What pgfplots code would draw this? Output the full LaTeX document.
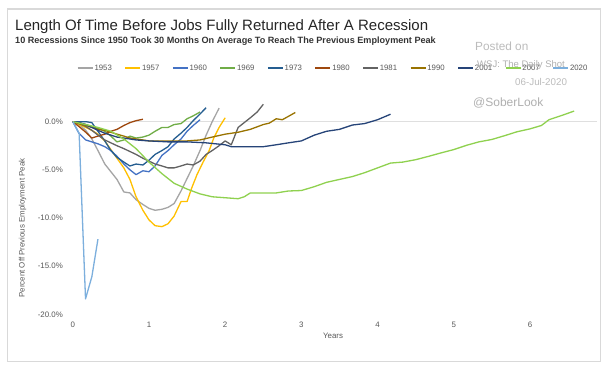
\documentclass[border=0pt]{standalone}
\usepackage{pgfplots}
\pgfplotsset{compat=1.18}
\usepackage{fontspec}
\setmainfont{Liberation Sans}
\definecolor{c1953}{HTML}{A5A5A5}
\definecolor{c1957}{HTML}{FFC000}
\definecolor{c1960}{HTML}{4472C4}
\definecolor{c1969}{HTML}{70AD47}
\definecolor{c1973}{HTML}{255E91}
\definecolor{c1980}{HTML}{9E480E}
\definecolor{c1981}{HTML}{636363}
\definecolor{c1990}{HTML}{997300}
\definecolor{c2001}{HTML}{264478}
\definecolor{c2007}{HTML}{8FD14F}
\definecolor{c2020}{HTML}{7CAFDD}
\definecolor{tickgray}{HTML}{595959}
\definecolor{framegray}{HTML}{D9D9D9}
\definecolor{wm}{HTML}{B0B0B0}
\begin{document}
\begin{tikzpicture}
\useasboundingbox (0bp,0bp) rectangle (612bp,370bp);
\fill[white] (0bp,0bp) rectangle (612bp,370bp);
\draw[color=framegray, line width=1.5bp] (7.3bp,8.3bp) rectangle (600.7bp,361bp);
\node[anchor=base west, inner sep=0pt, font=\fontsize{15bp}{18bp}\selectfont, text=black!85] at (15bp,339bp) {Length Of Time Before Jobs Fully Returned After A Recession};
\node[anchor=base west, inner sep=0pt, font=\fontsize{9.1bp}{10bp}\selectfont\bfseries, text=black!80] at (15bp,326bp) {10 Recessions Since 1950 Took 30 Months On Average To Reach The Previous Employment Peak};
\begin{axis}[
  at={(72.8bp,55.7bp)}, anchor=south west,
  width=524.2bp, height=214.8bp, scale only axis,
  xmin=0, xmax=6.88, ymin=-20, ymax=2.3,
  axis line style={draw=none}, major tick length=0pt,
  xtick={0,1,2,3,4,5,6}, xticklabels={0,1,2,3,4,5,6},
  ytick={-20,-15,-10,-5,0},
  yticklabels={-20.0\%,-15.0\%,-10.0\%,-5.0\%,0.0\%},
  /pgf/number format/assume math mode=true,
  ticklabel style={font=\fontsize{7.9bp}{9bp}\selectfont, text=tickgray},
  xticklabel style={anchor=center, yshift=-10.7bp, inner sep=0pt},
  yticklabel style={anchor=east, xshift=-9.8bp, inner sep=0pt},
  xlabel={Years}, ylabel={Percent Off Previous Employment Peak},
  xlabel style={at={(axis description cs:0.4964,-0.101)}, anchor=center, inner sep=0pt, font=\fontsize{7.9bp}{9bp}\selectfont, text=tickgray},
  ylabel style={at={(axis description cs:-0.0956,0.4018)}, anchor=center, inner sep=0pt, font=\fontsize{7.9bp}{9bp}\selectfont, text=tickgray},
  legend columns=11,
  legend image code/.code={\draw[#1, line width=1.6bp] (0bp,0bp) -- (15bp,0bp);},
  legend style={at={(axis description cs:0.00744,1.1453)}, anchor=west, draw=none, fill=none, inner sep=0pt,
    font=\fontsize{7.8bp}{9bp}\selectfont, text=tickgray, nodes={inner sep=1bp},
    /tikz/every even column/.append style={column sep=11.6bp}},
  every axis plot/.append style={line width=1.3bp, line join=round},
  clip=false,
]
\addplot[forget plot, color=gray!25, line width=0.8bp] coordinates {(0,0) (6.88,0)};
\addplot[c1953] coordinates {(0,0) (0.08,-0.3) (0.17,-0.9) (0.25,-1.8) (0.33,-3.0) (0.42,-4.4) (0.5,-5.2) (0.58,-6.0) (0.67,-7.3) (0.75,-7.4) (0.83,-8.1) (0.92,-8.6) (1.0,-9.0) (1.08,-9.2) (1.17,-9.1) (1.25,-8.9) (1.33,-8.5) (1.42,-7.2) (1.5,-5.9) (1.58,-4.6) (1.67,-3.0) (1.75,-1.4) (1.83,0.0) (1.92,1.4)};
\addlegendentry{1953}
\addplot[c1957] coordinates {(0,0) (0.08,-0.3) (0.17,-0.6) (0.25,-0.9) (0.33,-1.3) (0.42,-2.0) (0.5,-2.9) (0.58,-3.8) (0.67,-4.8) (0.75,-6.0) (0.83,-7.8) (0.92,-9.2) (1.0,-10.2) (1.08,-10.8) (1.17,-10.9) (1.25,-10.6) (1.33,-9.8) (1.42,-8.3) (1.5,-8.3) (1.56,-6.9) (1.63,-5.5) (1.71,-4.2) (1.79,-3.0) (1.85,-1.7) (1.92,-0.6) (2.0,0.4)};
\addlegendentry{1957}
\addplot[c1960] coordinates {(0,0) (0.08,-1.2) (0.17,-1.9) (0.25,-2.1) (0.33,-2.3) (0.42,-2.6) (0.5,-3.0) (0.58,-3.6) (0.67,-4.4) (0.75,-5.0) (0.83,-5.5) (0.92,-5.1) (1.0,-5.2) (1.08,-4.6) (1.17,-3.5) (1.25,-3.0) (1.33,-2.4) (1.42,-1.8) (1.5,-1.0) (1.58,-0.4) (1.67,0.2)};
\addlegendentry{1960}
\addplot[c1969] coordinates {(0,0) (0.08,-0.1) (0.17,-0.3) (0.25,-0.5) (0.33,-0.7) (0.42,-1.0) (0.5,-1.5) (0.58,-2.1) (0.67,-1.9) (0.75,-1.5) (0.83,-1.7) (0.92,-1.6) (1.0,-1.4) (1.08,-1.0) (1.17,-0.6) (1.25,-0.6) (1.33,-0.3) (1.42,-0.2) (1.5,0.3) (1.58,0.6) (1.67,1.0)};
\addlegendentry{1969}
\addplot[c1973] coordinates {(0,0) (0.08,0) (0.17,0) (0.25,-0.1) (0.33,-1.0) (0.42,-2.0) (0.5,-3.0) (0.58,-3.7) (0.67,-4.2) (0.75,-4.6) (0.83,-4.4) (0.92,-4.5) (1.0,-4.0) (1.08,-3.4) (1.17,-3.0) (1.25,-2.6) (1.33,-1.8) (1.42,-1.2) (1.5,-0.6) (1.58,0.1) (1.67,0.8) (1.75,1.45)};
\addlegendentry{1973}
\addplot[c1980] coordinates {(0,0) (0.08,-0.5) (0.17,-1.1) (0.25,-1.7) (0.33,-1.5) (0.42,-1.3) (0.5,-1.0) (0.58,-0.8) (0.67,-0.4) (0.75,-0.1) (0.83,0.1) (0.92,0.25)};
\addlegendentry{1980}
\addplot[c1981] coordinates {(0,0) (0.08,-0.2) (0.17,-0.5) (0.25,-0.9) (0.33,-1.4) (0.42,-1.9) (0.5,-2.2) (0.58,-2.5) (0.67,-2.8) (0.75,-3.1) (0.83,-3.4) (0.92,-3.8) (1.0,-4.1) (1.08,-4.4) (1.17,-4.6) (1.25,-4.8) (1.33,-4.8) (1.42,-4.6) (1.5,-4.4) (1.58,-4.5) (1.67,-4.1) (1.75,-3.4) (1.83,-3.0) (1.92,-2.5) (2.0,-2.0) (2.08,-2.4) (2.17,-0.6) (2.25,-0.1) (2.33,0.4) (2.42,1.0) (2.5,1.8)};
\addlegendentry{1981}
\addplot[c1990] coordinates {(0,0) (0.08,-0.2) (0.17,-0.4) (0.25,-0.6) (0.33,-0.8) (0.42,-0.9) (0.5,-1.1) (0.58,-1.3) (0.67,-1.5) (0.75,-1.7) (0.83,-1.8) (0.92,-1.9) (1.0,-2.0) (1.17,-2.0) (1.33,-2.0) (1.5,-2.0) (1.67,-1.9) (1.83,-1.6) (2.0,-1.3) (2.17,-1.1) (2.33,-0.8) (2.5,-0.3) (2.58,-0.15) (2.67,0.3) (2.75,0.2) (2.83,0.55) (2.92,0.95)};
\addlegendentry{1990}
\addplot[c2001] coordinates {(0,0) (0.08,-0.1) (0.17,-0.3) (0.25,-0.6) (0.33,-0.9) (0.42,-1.2) (0.5,-1.4) (0.58,-1.6) (0.67,-1.7) (0.75,-1.8) (0.83,-1.9) (1.0,-2.0) (1.25,-2.1) (1.5,-2.1) (1.75,-2.2) (2.0,-2.4) (2.08,-2.6) (2.25,-2.6) (2.5,-2.6) (2.67,-2.4) (2.83,-2.2) (3.0,-2.0) (3.17,-1.4) (3.33,-1.0) (3.5,-0.8) (3.67,-0.35) (3.83,-0.2) (4.0,0.2) (4.17,0.77)};
\addlegendentry{2001}
\addplot[c2007] coordinates {(0,0) (0.17,-0.3) (0.33,-0.6) (0.5,-1.0) (0.67,-1.8) (0.83,-2.8) (1.0,-4.2) (1.17,-5.4) (1.33,-6.4) (1.5,-7.0) (1.67,-7.5) (1.83,-7.8) (2.0,-7.9) (2.17,-8.0) (2.25,-7.8) (2.33,-7.4) (2.5,-7.4) (2.67,-7.4) (2.83,-7.2) (3.0,-7.15) (3.17,-6.75) (3.33,-6.3) (3.5,-6.0) (3.67,-5.7) (3.83,-5.3) (4.0,-4.8) (4.17,-4.3) (4.33,-4.2) (4.5,-3.95) (4.67,-3.6) (4.83,-3.25) (5.0,-2.9) (5.17,-2.45) (5.33,-2.1) (5.5,-1.85) (5.67,-1.45) (5.83,-1.05) (6.0,-0.75) (6.15,-0.4) (6.25,0.2) (6.42,0.65) (6.58,1.1)};
\addlegendentry{2007}
\addplot[c2020] coordinates {(0,0) (0.083,-1.2) (0.167,-18.4) (0.25,-16.1) (0.33,-12.2)};
\addlegendentry{2020}
\end{axis}
\node[anchor=west, inner sep=0pt, font=\fontsize{11.8bp}{13bp}\selectfont, text=wm!85] at (475bp,323.3bp) {Posted on};
\node[anchor=west, inner sep=0pt, font=\fontsize{9.5bp}{11bp}\selectfont, text=wm] at (477bp,305bp) {WSJ: The Daily Shot};
\node[anchor=west, inner sep=0pt, font=\fontsize{9.8bp}{11bp}\selectfont, text=wm!85] at (515bp,288bp) {06-Jul-2020};
\node[anchor=west, inner sep=0pt, font=\fontsize{12bp}{14bp}\selectfont, text=wm] at (473bp,266.7bp) {@SoberLook};
\end{tikzpicture}
\end{document}
